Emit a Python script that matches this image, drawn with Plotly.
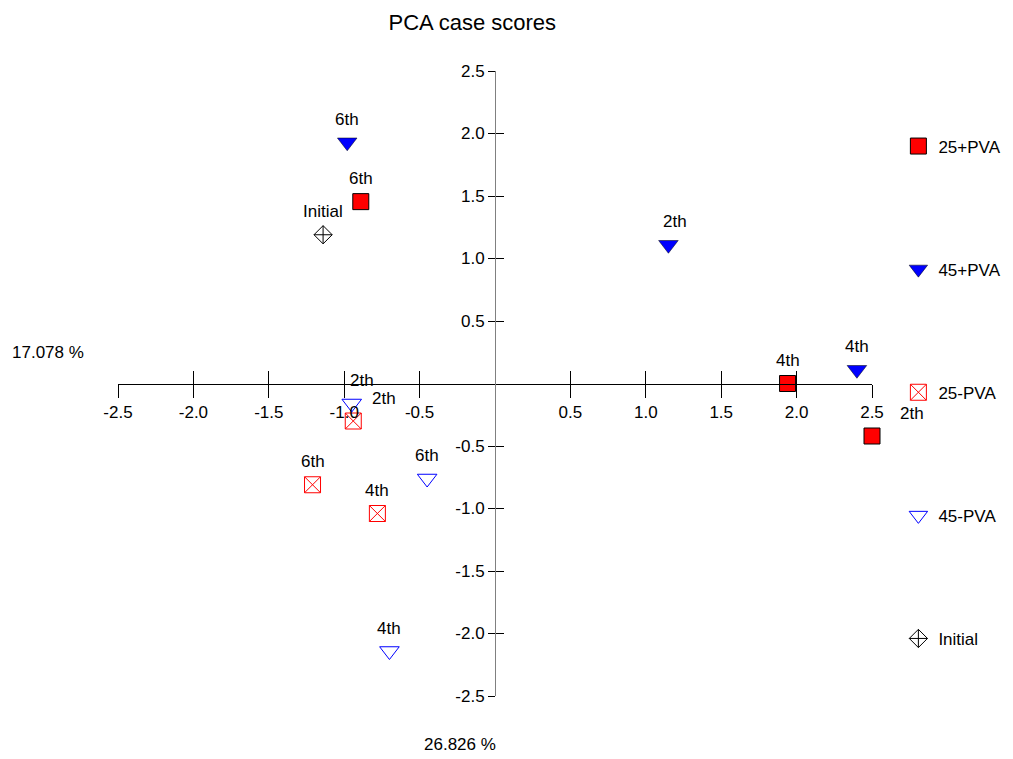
"""
PCA case scores - score plot of the first two components
"""
import plotly.graph_objects as go

# ── data ─────────────────────────────────────────────────
groups = ["25+PVA", "45+PVA", "25-PVA", "45-PVA", "Initial"]
point_labels = {
    "25+PVA": ["6th", "4th", "2th"],
    "45+PVA": ["6th", "2th", "4th"],
    "25-PVA": ["2th", "6th", "4th"],
    "45-PVA": ["2th", "6th", "4th"],
    "Initial": ["Initial"],
}
pc1_scores = {
    "25+PVA": [-0.89, 1.94, 2.50],
    "45+PVA": [-0.98, 1.15, 2.40],
    "25-PVA": [-0.94, -1.21, -0.78],
    "45-PVA": [-0.95, -0.45, -0.70],
    "Initial": [-1.14],
}
pc2_scores = {
    "25+PVA": [1.455, 0.0, -0.42],
    "45+PVA": [1.93, 1.11, 0.11],
    "25-PVA": [-0.30, -0.81, -1.04],
    "45-PVA": [-0.16, -0.76, -2.14],
    "Initial": [1.19],
}
pc1_title = "26.826 %"
pc2_title = "17.078 %"
tick_vals = [-2.5, -2.0, -1.5, -1.0, -0.5, 0.5, 1.0, 1.5, 2.0, 2.5]

# ── style ────────────────────────────────────────────────
FONT = "Liberation Sans, Arial, sans-serif"
styles = {
    "25+PVA": dict(symbol="square", size=16, color="#FF0000", line=dict(color="#000000", width=1)),
    "45+PVA": dict(symbol="triangle-down", size=17, color="#0000FF", line=dict(color="#000000", width=0.5)),
    "25-PVA": dict(symbol="square-x-open", size=16, color="#FF0000", line=dict(width=1)),
    "45-PVA": dict(symbol="triangle-down-open", size=17, color="#0000FF", line=dict(width=1)),
    "Initial": dict(symbol="diamond-cross-open", size=14, color="#000000", line=dict(width=1)),
}
# label offsets (px) where the label is not straight above its marker
label_shift = {("25+PVA", "2th"): 40, ("25-PVA", "2th"): 31,
               ("45-PVA", "2th"): 10, ("45+PVA", "2th"): 7}

fig = go.Figure()
annotations = []
for g in groups:
    fig.add_trace(go.Scatter(
        x=pc1_scores[g], y=pc2_scores[g],
        mode="markers", name=g,
        marker=styles[g],
        legendgroup=g,
        cliponaxis=False,
    ))
    for lab, x, y in zip(point_labels[g], pc1_scores[g], pc2_scores[g]):
        annotations.append(dict(
            x=x, y=y, text=lab, showarrow=False,
            xshift=label_shift.get((g, lab), 0), yshift=23,
            font=dict(size=17, color="#000000", family=FONT),
        ))

# invisible trace for the overlay axes (upper / right half of the crossing ticks)
fig.add_trace(go.Scatter(x=[0], y=[0], xaxis="x2", yaxis="y2", mode="markers",
                         marker=dict(opacity=0), showlegend=False, hoverinfo="skip"))

tick_text = [f"{v:.1f}" for v in tick_vals]
axis_common = dict(range=[-2.5, 2.5], showgrid=False, zeroline=False, automargin=False,
                   tickvals=tick_vals, anchor="free", position=0.5)

annotations += [
    dict(x=-0.0935, y=0.55, xref="paper", yref="paper", text=pc2_title, showarrow=False,
         xanchor="center", yanchor="middle",
         font=dict(size=17, family=FONT, color="#000000")),
    dict(x=0.4536, y=-0.078, xref="paper", yref="paper", text=pc1_title, showarrow=False,
         xanchor="center", yanchor="middle",
         font=dict(size=17, family=FONT, color="#000000")),
]

# the page body adds an 8px margin, so the figure is 8px smaller than the window
fig.update_layout(
    width=1005, height=751,
    margin=dict(l=110, r=141, t=63, b=63, autoexpand=False),
    plot_bgcolor="white", paper_bgcolor="white",
    font=dict(family=FONT, size=17, color="#000000"),
    title=dict(text="PCA case scores", x=0.462, xanchor="center", y=0.9816, yanchor="middle",
               font=dict(size=22, family=FONT, color="#000000")),
    xaxis=dict(**axis_common, ticktext=tick_text, ticks="outside", ticklen=13,
               tickcolor="#000000", showline=True, linecolor="#000000", linewidth=1,
               tickfont=dict(size=17, family=FONT)),
    yaxis=dict(**axis_common, ticktext=tick_text, ticks="outside", ticklen=7,
               tickcolor="#000000", showline=True, linecolor="#808080", linewidth=1,
               tickfont=dict(size=17, family=FONT)),
    xaxis2=dict(**axis_common, overlaying="x", ticks="inside", ticklen=13,
                tickcolor="#000000", showline=False, showticklabels=False),
    yaxis2=dict(**axis_common, overlaying="y", ticks="inside", ticklen=8,
                tickcolor="#000000", showline=False, showticklabels=False),
    legend=dict(x=1.035, y=0.908, xanchor="left", yanchor="top",
                tracegroupgap=98, font=dict(size=17, family=FONT),
                bgcolor="rgba(0,0,0,0)", itemwidth=30),
    annotations=annotations,
    showlegend=True,
)

fig.write_html("out.html")
